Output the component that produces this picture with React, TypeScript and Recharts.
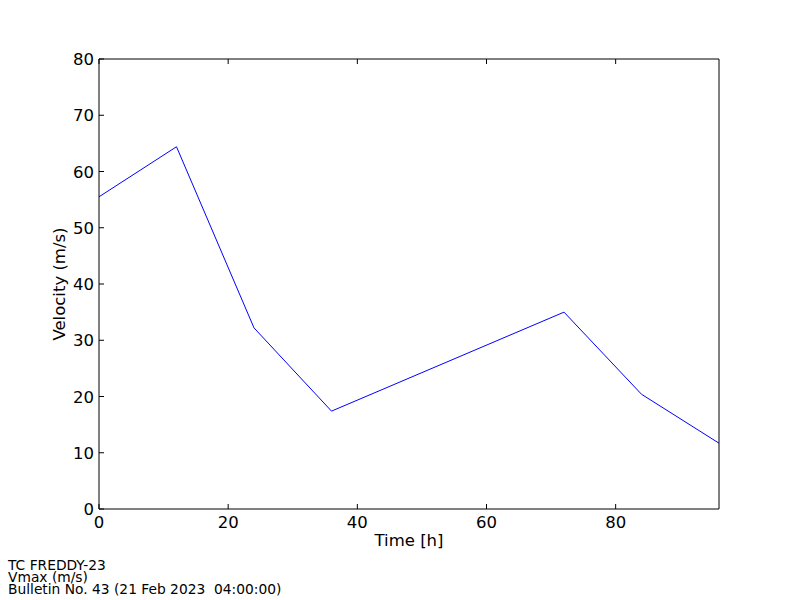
import { LineChart, Line, XAxis, YAxis } from "recharts";

const hours = [0, 12, 24, 36, 72, 84, 96];
const vmax = [55.5, 64.4, 32.2, 17.4, 35.0, 20.4, 11.7];
const xTicks = [0, 20, 40, 60, 80];
const yTicks = [0, 10, 20, 30, 40, 50, 60, 70, 80];
const footerLines = ["TC FREDDY-23", "Vmax (m/s)", "Bulletin No. 43 (21 Feb 2023  04:00:00)"];

const data = hours.map((h, i) => ({ h, v: vmax[i] }));

const FONT = "'DejaVu Sans', sans-serif";
const TICK_LEN = 5;

const BottomTick = (props: any) => {
  const { x, y, payload } = props;
  return (
    <g>
      <line x1={x} y1={y} x2={x} y2={y - TICK_LEN} stroke="#000" />
      <text x={x} y={y + 19} textAnchor="middle" fontSize={16.5} fontFamily={FONT} fill="#000">
        {payload.value}
      </text>
    </g>
  );
};

const TopTick = (props: any) => {
  const { x, y } = props;
  return <line x1={x} y1={y} x2={x} y2={y + TICK_LEN} stroke="#000" />;
};

const LeftTick = (props: any) => {
  const { x, y, payload } = props;
  return (
    <g>
      <line x1={x} y1={y} x2={x + TICK_LEN} y2={y} stroke="#000" />
      <text x={x - 5} y={y + 6} textAnchor="end" fontSize={16.5} fontFamily={FONT} fill="#000">
        {payload.value}
      </text>
    </g>
  );
};

const RightTick = (props: any) => {
  const { x, y } = props;
  return <line x1={x} y1={y} x2={x - TICK_LEN} y2={y} stroke="#000" />;
};

export default function App() {
  return (
    <div style={{ position: "absolute", left: 0, top: 0, width: 800, height: 600, background: "#fff", fontFamily: FONT }}>
      <LineChart width={800} height={600} data={data} margin={{ top: 58, right: 80, bottom: 61, left: 39 }}>
        <XAxis
          xAxisId="b"
          dataKey="h"
          type="number"
          domain={[0, 96]}
          ticks={xTicks}
          tickSize={0}
          tickMargin={0}
          tickLine={false}
          axisLine={{ stroke: "#000" }}
          tick={BottomTick}
          height={30}
        />
        <XAxis
          xAxisId="t"
          orientation="top"
          dataKey="h"
          type="number"
          domain={[0, 96]}
          ticks={xTicks}
          tickSize={0}
          tickMargin={0}
          tickLine={false}
          axisLine={{ stroke: "#000" }}
          tick={TopTick}
          height={1}
        />
        <YAxis
          yAxisId="l"
          type="number"
          domain={[0, 80]}
          ticks={yTicks}
          tickSize={0}
          tickMargin={0}
          tickLine={false}
          axisLine={{ stroke: "#000" }}
          tick={LeftTick}
          width={60}
        />
        <YAxis
          yAxisId="r"
          orientation="right"
          type="number"
          domain={[0, 80]}
          ticks={yTicks}
          tickSize={0}
          tickMargin={0}
          tickLine={false}
          axisLine={{ stroke: "#000" }}
          tick={RightTick}
          width={1}
        />
        <Line
          xAxisId="b"
          yAxisId="l"
          type="linear"
          dataKey="v"
          stroke="#0000ff"
          strokeWidth={1}
          dot={false}
          isAnimationActive={false}
        />
      </LineChart>
      <div style={{ position: "absolute", left: 409, top: 531, transform: "translateX(-50%)", whiteSpace: "nowrap", fontSize: 16.5, lineHeight: "20px" }}>
        Time [h]
      </div>
      <div
        style={{
          position: "absolute",
          left: 60,
          top: 284,
          transform: "translate(-50%, -50%) rotate(-90deg)",
          fontSize: 16.5,
          whiteSpace: "nowrap",
          lineHeight: "20px",
        }}
      >
        Velocity (m/s)
      </div>
      <div style={{ position: "absolute", left: 8, top: 559, fontSize: 13.8, lineHeight: "12px" }}>
        {footerLines.map((t) => (
          <div key={t} style={{ whiteSpace: "pre" }}>{t}</div>
        ))}
      </div>
    </div>
  );
}
